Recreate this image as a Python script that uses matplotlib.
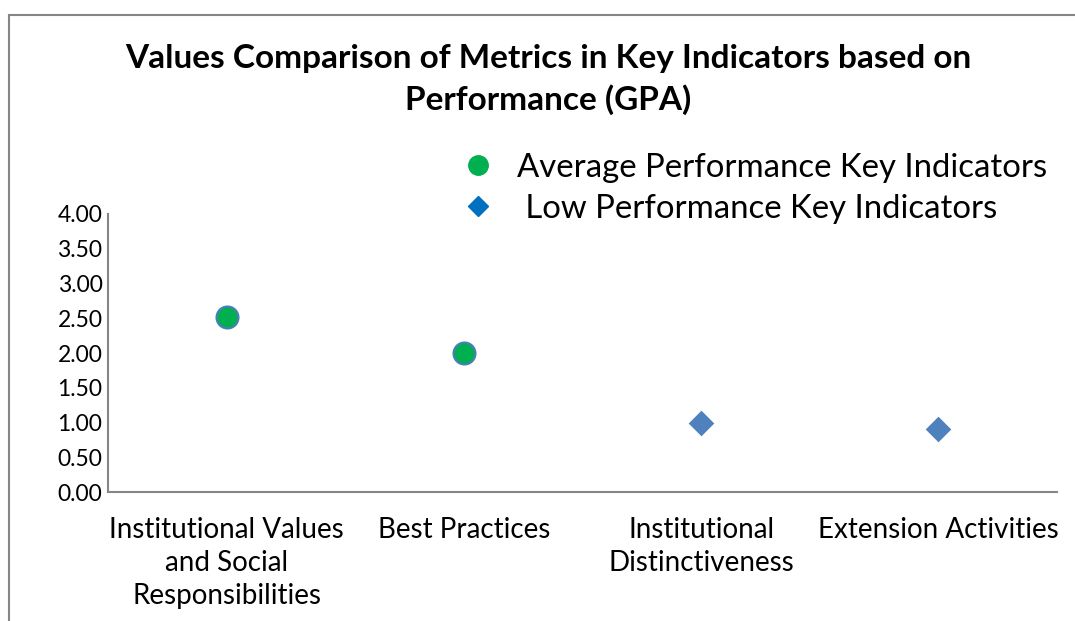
import matplotlib
matplotlib.use("Agg")
import matplotlib.pyplot as plt
from matplotlib.lines import Line2D
from matplotlib.patches import Rectangle

# Data
categories = ["Institutional Values\nand Social\nResponsibilities", "Best Practices",
              "Institutional\nDistinctiveness", "Extension Activities"]
avg_idx = [0, 1]
avg_values = [2.52, 2.0]
low_idx = [2, 3]
low_values = [1.0, 0.9]
y_ticks = [0.0, 0.5, 1.0, 1.5, 2.0, 2.5, 3.0, 3.5, 4.0]

plt.rcParams["font.family"] = ["Lato", "DejaVu Sans"]

fig = plt.figure(figsize=(10.75, 6.21), dpi=100)
ax = fig.add_axes([0.1005, 0.2077, 0.8828, 0.4477])

# outer chart border (top and left visible)
fig.add_artist(Rectangle((9 / 1075, -0.1), 1.2, 1 - 15 / 621 + 0.1, transform=fig.transFigure,
                         fill=False, edgecolor="#868686", lw=1.5))

ax.scatter(avg_idx, avg_values, s=250, color="#00B050", edgecolor="#4A7EBB", linewidth=1.5, zorder=3)
ax.scatter(low_idx, low_values, s=170, marker="D", color="#4F81BD", edgecolor="#4F81BD",
           linewidth=0, zorder=3)

ax.set_xlim(-0.5, 3.5)
ax.set_ylim(0, 4)
ax.set_yticks(y_ticks)
ax.set_yticklabels([f"{v:.2f}" for v in y_ticks])
ax.set_xticks(range(len(categories)))
ax.set_xticklabels(categories, linespacing=1.33)
ax.tick_params(axis="both", length=0, colors="black")
ax.tick_params(axis="x", pad=18, labelsize=20)
ax.tick_params(axis="y", pad=4, labelsize=16.5)

for side in ["top", "right"]:
    ax.spines[side].set_visible(False)
for side in ["left", "bottom"]:
    ax.spines[side].set_color("#868686")
    ax.spines[side].set_linewidth(1.5)

fig.text(0.51, 0.872, "Values Comparison of Metrics in Key Indicators based on\nPerformance (GPA)",
         ha="center", va="center", fontsize=24, fontweight="bold", linespacing=1.4)

handles = [
    Line2D([], [], marker="o", linestyle="none", markersize=14, color="#00B050"),
    Line2D([], [], marker="D", linestyle="none", markersize=10, color="#0070C0"),
]
labels = ["Average Performance Key Indicators", " Low Performance Key Indicators"]
fig.legend(handles, labels, loc="center left", bbox_to_anchor=(0.4137, 0.697), frameon=False,
           fontsize=23.7, handletextpad=0.2, labelspacing=0.34, borderpad=0, borderaxespad=0)

fig.savefig("out.png", dpi=100)
